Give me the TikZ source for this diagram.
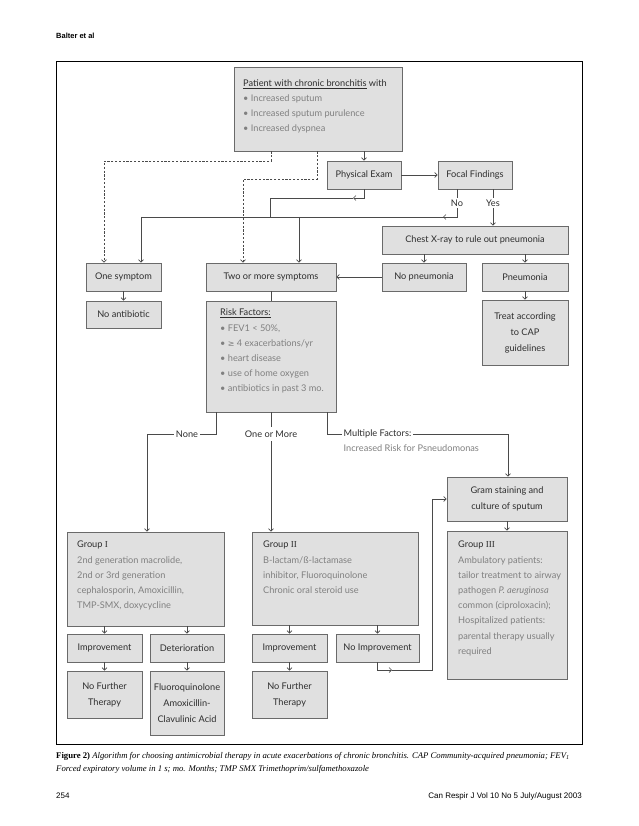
\documentclass[tikz,border=0pt]{standalone}
\usepackage{fontspec}
\usetikzlibrary{arrows.meta}
\newfontfamily\diagf{Lato}
\newfontfamily\serf{Liberation Serif}
\newfontfamily\arialf{Liberation Sans}
\newfontfamily\symf{DejaVu Sans}
\definecolor{boxfill}{HTML}{E0E0E0}
\definecolor{boxline}{HTML}{6A6A6A}
\definecolor{darktxt}{HTML}{2E2E2E}
\definecolor{graytxt}{HTML}{808080}
\definecolor{linec}{HTML}{4A4A4A}
\begin{document}
\begin{tikzpicture}[x=1pt,y=-1pt,
  box/.style={draw=boxline, fill=boxfill, line width=0.9pt, inner sep=0pt, text=darktxt, font=\diagf\fontsize{9.2}{16}\selectfont, align=center},
  txt/.style={inner sep=0pt, text=darktxt, font=\diagf\fontsize{9.2}{15.2}\selectfont, align=left, anchor=north west},
  conn/.style={draw=linec, line width=0.6pt},
  arr/.style={conn, -{Straight Barb[length=2.5pt,width=5pt]}},
  dsh/.style={conn, dash pattern=on 2.2pt off 1.6pt, -{Straight Barb[length=2.5pt,width=5pt]}},
  lbl/.style={fill=white, inner sep=1.5pt, text=darktxt, font=\diagf\fontsize{9.2}{10}\selectfont},
]
\useasboundingbox (0,0) rectangle (638,826);
\fill[white] (0,0) rectangle (638,826);

% header, frame
\node[anchor=west, inner sep=0pt, font=\arialf\bfseries\fontsize{7.5}{9}\selectfont] (hdr) at (56,36) {Balter et al};
\node[draw, line width=1pt, minimum width=526pt, minimum height=683pt, anchor=north west, inner sep=0pt] (frame) at (56,61) {};

% boxes
\node[box, minimum width=168pt, minimum height=84pt] (top) at (318,109) {};
\node[txt] (topt) at (243,80) {\underline{Patient with chronic bronchitis} with\\[-1pt]
  \textcolor{graytxt}{• Increased sputum}\\
  \textcolor{graytxt}{• Increased sputum purulence}\\
  \textcolor{graytxt}{• Increased dyspnea}};
\node[box, minimum width=74pt, minimum height=28pt] (pe) at (364,175) {Physical Exam};
\node[box, minimum width=74pt, minimum height=28pt] (ff) at (475,175) {Focal Findings};
\node[box, minimum width=186pt, minimum height=28pt] (cxr) at (475,240) {Chest X-ray to rule out pneumonia};
\node[box, minimum width=75pt, minimum height=28pt] (one) at (123.5,277) {One symptom};
\node[box, minimum width=130pt, minimum height=28pt] (two) at (271,277) {Two or more symptoms};
\node[box, minimum width=84pt, minimum height=28pt] (nop) at (424,277) {No pneumonia};
\node[box, minimum width=86pt, minimum height=28pt] (pn) at (525,277) {Pneumonia};
\node[box, minimum width=75pt, minimum height=27pt] (noab) at (123.5,314.5) {No antibiotic};
\node[box, minimum width=130pt, minimum height=111pt] (risk) at (271,356.5) {};
\node[txt] (riskt) at (220,309) {\underline{Risk Factors:}\\
  \textcolor{graytxt}{• FEV1 < 50\%,}\\
  \textcolor{graytxt}{• {\symf\fontsize{8}{15}\selectfont ≥} 4 exacerbations/yr}\\
  \textcolor{graytxt}{• heart disease}\\
  \textcolor{graytxt}{• use of home oxygen}\\
  \textcolor{graytxt}{• antibiotics in past 3 mo.}};
\node[box, minimum width=86pt, minimum height=65pt] (treat) at (525,332.5) {Treat according\\to CAP\\guidelines};
\node[box, minimum width=120pt, minimum height=44pt] (gram) at (507,499) {Gram staining and\\culture of sputum};
\node[box, minimum width=157pt, minimum height=94pt] (g1) at (145.5,579) {};
\node[txt] (g1t) at (77,541) {Group {\serf I}\\
  \textcolor{graytxt}{2nd generation macrolide,}\\
  \textcolor{graytxt}{2nd or 3rd generation}\\
  \textcolor{graytxt}{cephalosporin, Amoxicillin,}\\
  \textcolor{graytxt}{TMP-SMX, doxycycline}};
\node[box, minimum width=166pt, minimum height=93pt] (g2) at (335,578.5) {};
\node[txt] (g2t) at (263,541) {Group {\serf II}\\
  \textcolor{graytxt}{B-lactam/ß-lactamase}\\
  \textcolor{graytxt}{inhibitor, Fluoroquinolone}\\
  \textcolor{graytxt}{Chronic oral steroid use}};
\node[box, minimum width=120pt, minimum height=148pt] (g3) at (507,605) {};
\node[txt] (g3t) at (458,541) {Group {\serf III}\\
  \textcolor{graytxt}{Ambulatory patients:}\\
  \textcolor{graytxt}{tailor treatment to airway}\\
  \textcolor{graytxt}{pathogen \textit{P. aeruginosa}}\\
  \textcolor{graytxt}{common (ciproloxacin);}\\
  \textcolor{graytxt}{Hospitalized patients:}\\
  \textcolor{graytxt}{parental therapy usually}\\
  \textcolor{graytxt}{required}};
\node[box, minimum width=75pt, minimum height=28pt] (imp1) at (104.5,648) {Improvement};
\node[box, minimum width=74pt, minimum height=28pt] (det) at (187,648) {Deterioration};
\node[box, minimum width=75pt, minimum height=28pt] (imp2) at (289.5,648) {Improvement};
\node[box, minimum width=83pt, minimum height=28pt] (noimp) at (377.5,648) {No Improvement};
\node[box, minimum width=75pt, minimum height=47pt] (nft1) at (104.5,694.5) {No Further\\Therapy};
\node[box, minimum width=74pt, minimum height=64pt] (fluoro) at (187,703) {Fluoroquinolone\\Amoxicillin-\\Clavulinic Acid};
\node[box, minimum width=75pt, minimum height=47pt] (nft2) at (289.5,694.5) {No Further\\Therapy};

% connectors top
\draw[arr] (top.south -| pe) -- (pe.north);
\draw[arr] (pe.east) -- (ff.west);
\draw[dsh] ([xshift=-47pt]top.south) |- (104,161) -- ([xshift=-19.5pt]one.north);
\draw[dsh] ([xshift=-1pt]top.south) |- (243,179) -- ([xshift=-28pt]two.north);
\coordinate (pa) at (353,198);
\draw[arr] (pe.south) |- (pa);
\draw[conn] (pa) -- (270,198) -- (270,217);
\coordinate (hl) at (141,217);
\coordinate (hr) at (457,217);
\draw[conn] (hl) -- (hr);
\draw[arr] (hl) -- ([xshift=17.5pt]one.north);
\draw[arr] (299,217) -- ([xshift=28pt]two.north);
\draw[arr] ([xshift=-18pt]ff.south) |- (443,217);
\node[lbl] (nolbl) at (457,203) {No};
\draw[arr] ([xshift=18pt]ff.south) -- ([xshift=18pt]ff.south |- cxr.north);
\node[lbl] (yeslbl) at (493,203) {Yes};
\draw[arr] (cxr.south -| nop) -- (nop.north);
\draw[arr] (cxr.south -| pn) -- (pn.north);
\draw[arr] (nop.west) -- (two.east);
\draw[arr] (one.south) -- (noab.north);
\draw[conn] (two.south) -- (risk.north);
\draw[arr] (pn.south) -- (treat.north);

% risk branches
\coordinate (nn) at (147,434);
\draw[arr] ([xshift=-55pt]risk.south) |- (nn) -- (nn |- g1.north);
\node[lbl] (nonelbl) at (187,434) {None};
\draw[arr] (risk.south) -- (risk.south |- g2.north);
\node[lbl, inner ysep=4pt] (onelbl) at (271,434) {One or More};
\coordinate (mf) at (508,434);
\draw[arr] ([xshift=56pt]risk.south) |- (mf) -- (mf |- gram.north);
\node[lbl, anchor=west] (mflbl) at (342,434) {Multiple Factors:};
\node[anchor=west, inner sep=1.5pt, text=graytxt, font=\diagf\fontsize{9.2}{10}\selectfont] (mf2) at (342,448) {Increased Risk for Psneudomonas};
\draw[arr] (gram.south) -- (g3.north);

% groups
\draw[arr] (g1.south -| imp1) -- (imp1.north);
\draw[arr] (g1.south -| det) -- (det.north);
\draw[arr] (g2.south -| imp2) -- (imp2.north);
\draw[arr] (g2.south -| noimp) -- (noimp.north);
\draw[arr] (imp1.south) -- (nft1.north);
\draw[arr] (det.south) -- (fluoro.north);
\draw[arr] (imp2.south) -- (nft2.north);
\coordinate (lp) at (392,670);
\draw[arr] (noimp.south) |- (lp);
\draw[arr] (lp) -- (432,670) |- (gram.west);

% caption, footer
\node[anchor=north west, inner sep=0pt, align=left, font=\serf\fontsize{8.7}{13}\selectfont] (cap) at (56,752) {{\bfseries Figure 2)} \textit{Algorithm for choosing antimicrobial therapy in acute exacerbations of chronic bronchitis. CAP Community-acquired pneumonia; FEV\textsubscript{1}}\\
\textit{Forced expiratory volume in 1 s; mo. Months; TMP SMX Trimethoprim/sulfamethoxazole}};
\node[anchor=west, inner sep=0pt, font=\arialf\fontsize{8}{10}\selectfont] (pg) at (56,796) {254};
\node[anchor=east, inner sep=0pt, font=\arialf\fontsize{8}{10}\selectfont] (jr) at (582,796) {Can Respir J Vol 10 No 5 July/August 2003};
\end{tikzpicture}
\end{document}
